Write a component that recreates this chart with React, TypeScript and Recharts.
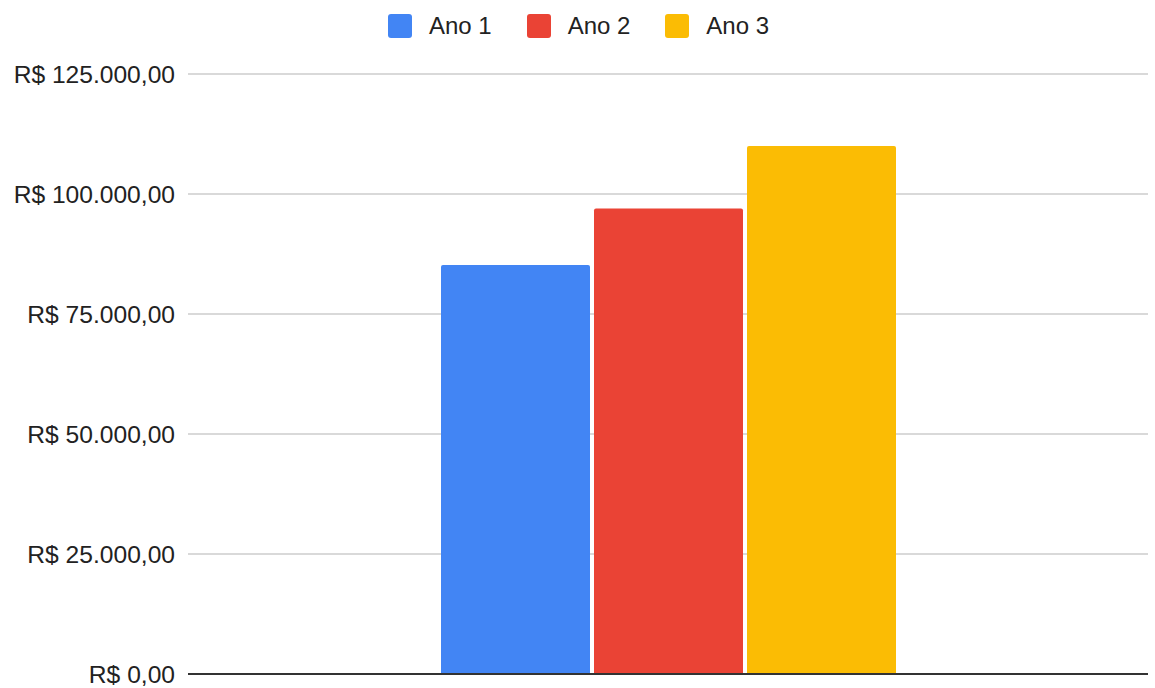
import React from 'react';
import { BarChart, Bar, XAxis, YAxis, CartesianGrid, Legend, ReferenceLine } from 'recharts';

const categories = [''];
const ano1 = [85200];
const ano2 = [97000];
const ano3 = [110000];
const yTicks = [0, 25000, 50000, 75000, 100000, 125000];

const seriesNames = ['Ano 1', 'Ano 2', 'Ano 3'];
const seriesColors = ['#4285F4', '#EA4335', '#FBBC04'];

const data = categories.map((c, i) => ({
  category: c,
  ano1: ano1[i],
  ano2: ano2[i],
  ano3: ano3[i],
}));

const formatBRL = (v: number) => {
  const int = Math.floor(v)
    .toString()
    .replace(/\B(?=(\d{3})+(?!\d))/g, '.');
  return `R$ ${int},00`;
};

const font = '"Liberation Sans", Arial, sans-serif';

const LegendContent = (props: any) => {
  const { payload } = props;
  return (
    <div
      style={{
        height: 74,
        display: 'flex',
        justifyContent: 'center',
        alignItems: 'flex-start',
        paddingTop: 14,
        paddingLeft: 2,
        boxSizing: 'border-box',
        fontFamily: font,
      }}
    >
      {(payload || []).map((entry: any, i: number) => (
        <div
          key={i}
          style={{ display: 'flex', alignItems: 'center', marginRight: i < payload.length - 1 ? 35 : 0 }}
        >
          <span
            style={{
              width: 24,
              height: 24,
              borderRadius: 3,
              background: entry.color,
              display: 'inline-block',
              marginRight: 17,
            }}
          />
          <span style={{ fontSize: 24, color: '#222', lineHeight: '24px' }}>{entry.value}</span>
        </div>
      ))}
    </div>
  );
};

export default function App() {
  return (
    <div style={{ position: 'absolute', left: 0, top: 0, width: 1155, height: 688, background: '#fff' }}>
      <BarChart
        width={1155}
        height={688}
        data={data}
        margin={{ top: 0, right: 7, bottom: 14, left: 0 }}
        barGap={4}
      >
        <CartesianGrid vertical={false} stroke="#cccccc" strokeWidth={1.5} />
        <XAxis dataKey="category" hide />
        <YAxis
          width={188}
          domain={[0, 125000]}
          ticks={yTicks}
          tickFormatter={formatBRL}
          axisLine={false}
          tickLine={false}
          tickSize={0}
          tickMargin={13}
          tick={{ fill: '#222222', fontSize: 24.6, fontFamily: font }}
        />
        <Legend
          verticalAlign="top"
          wrapperStyle={{ left: 0, width: 1155, top: 0 }}
          content={<LegendContent />}
        />
        {['ano1', 'ano2', 'ano3'].map((k, i) => (
          <Bar
            key={k}
            dataKey={k}
            name={seriesNames[i]}
            fill={seriesColors[i]}
            barSize={149}
            radius={[2, 2, 0, 0]}
            isAnimationActive={false}
          />
        ))}
        <ReferenceLine y={0} stroke="#333333" strokeWidth={2} />
      </BarChart>
    </div>
  );
}
